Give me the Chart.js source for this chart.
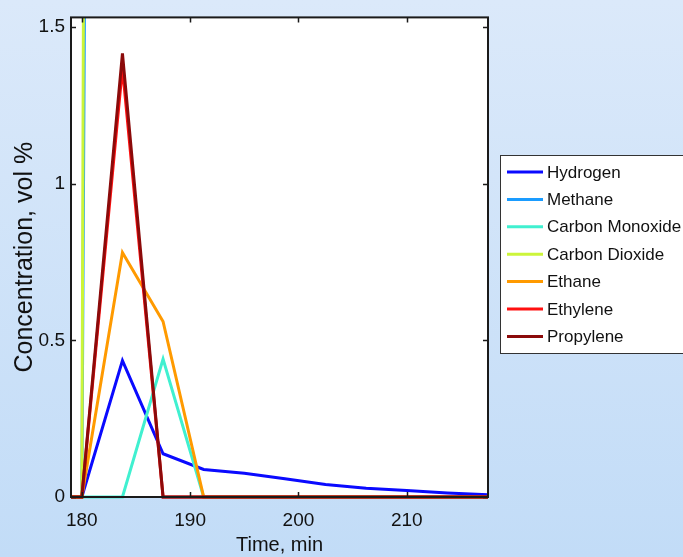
<!DOCTYPE html>
<html>
<head>
<meta charset="utf-8">
<script src="https://cdn.jsdelivr.net/npm/chart.js@4.4.1/dist/chart.umd.min.js"></script>
<style>
  html, body { margin: 0; padding: 0; }
  body {
    width: 683px; height: 557px; overflow: hidden;
    background: linear-gradient(to bottom, #dbe9fa, #c2dcf7);
  }
  canvas { display: block; }
</style>
</head>
<body>
<canvas id="gas_chart" width="683" height="557"></canvas>
<script>
// sample times (min)
const times = [179, 180, 183.75, 187.5, 191.25, 195, 198.75, 202.5, 206.25, 210, 213.75, 217.5];

// concentrations, vol %
const hydrogen       = [0, 0, 0.435, 0.138, 0.088, 0.076, 0.058, 0.040, 0.028, 0.021, 0.013, 0.007];
const methane        = [0, 0, 24, 20, 16, 13, 11, 9, 8, 7, 6, 5];
const carbonMonoxide = [0, 0, 0, 0.44, 0, 0, 0, 0, 0, 0, 0, 0];
const carbonDioxide  = [0, 0, 40, 34, 28, 24, 20, 17, 15, 13, 11, 10];
const ethane         = [0, 0, 0.78, 0.56, 0, 0, 0, 0, 0, 0, 0, 0];
const ethylene       = [0, 0, 1.37, 0, 0, 0, 0, 0, 0, 0, 0, 0];
const propylene      = [0, 0, 1.415, 0, 0, 0, 0, 0, 0, 0, 0, 0];

const seriesNames = ['Hydrogen', 'Methane', 'Carbon Monoxide', 'Carbon Dioxide', 'Ethane', 'Ethylene', 'Propylene'];
const seriesData = [hydrogen, methane, carbonMonoxide, carbonDioxide, ethane, ethylene, propylene];
const seriesColors = ['#0a0aff', '#1a9cff', '#40f0d0', '#ccf53a', '#ff9a00', '#ff1010', '#8b0a0a'];

const xTicks = [180, 190, 200, 210];
const yTicks = [0, 0.5, 1, 1.5];
const yTickLabels = ['0', '0.5', '1', '1.5'];

const fontFam = "'Liberation Sans', Arial, sans-serif";

// white plot area, box with inward ticks, boxed legend (like matlab)
const matlabLook = {
  id: 'matlabLook',
  beforeDatasetsDraw(chart) {
    const a = chart.chartArea;
    const ctx = chart.ctx;
    ctx.save();
    ctx.fillStyle = '#ffffff';
    ctx.fillRect(a.left, a.top, a.right - a.left, a.bottom - a.top);
    ctx.restore();
  },
  afterDatasetsDraw(chart) {
    const a = chart.chartArea;
    const ctx = chart.ctx;
    const x = chart.scales.x, y = chart.scales.y;
    ctx.save();
    ctx.strokeStyle = '#1a1a1a';
    ctx.lineWidth = 1.5;
    ctx.beginPath();
    x.ticks.forEach(t => {
      const px = Math.round(x.getPixelForValue(t.value)) + 0.5;
      ctx.moveTo(px, a.top); ctx.lineTo(px, a.top + 5);
      ctx.moveTo(px, a.bottom); ctx.lineTo(px, a.bottom - 5);
    });
    y.ticks.forEach(t => {
      const py = Math.round(y.getPixelForValue(t.value)) + 0.5;
      ctx.moveTo(a.left, py); ctx.lineTo(a.left + 5, py);
      ctx.moveTo(a.right, py); ctx.lineTo(a.right - 5, py);
    });
    ctx.stroke();
    ctx.lineWidth = 2;
    ctx.strokeRect(a.left, a.top, a.right - a.left, a.bottom - a.top);
    ctx.restore();
  },
  afterDraw(chart) {
    const ctx = chart.ctx;
    const boxL = 500, boxT = 155, boxB = 353, rowH = 27.4, firstRow = 172;
    ctx.save();
    ctx.fillStyle = '#ffffff';
    ctx.fillRect(boxL, boxT, chart.width - boxL + 5, boxB - boxT);
    ctx.strokeStyle = '#333333';
    ctx.lineWidth = 1;
    ctx.strokeRect(boxL + 0.5, boxT + 0.5, chart.width - boxL + 5, boxB - boxT);
    ctx.font = '17px ' + fontFam;
    ctx.textBaseline = 'middle';
    chart.data.datasets.forEach((ds, i) => {
      const ry = firstRow + i * rowH;
      ctx.strokeStyle = ds.borderColor;
      ctx.lineWidth = 3;
      ctx.beginPath();
      ctx.moveTo(507, ry); ctx.lineTo(543, ry);
      ctx.stroke();
      ctx.fillStyle = '#111111';
      ctx.fillText(ds.label, 547, ry + 1);
    });
    ctx.restore();
  }
};

new Chart(document.getElementById('gas_chart'), {
  type: 'line',
  data: {
    datasets: seriesNames.map((name, i) => ({
      label: name,
      data: times.map((t, k) => ({ x: t, y: seriesData[i][k] })),
      borderColor: seriesColors[i],
      backgroundColor: seriesColors[i],
      borderWidth: 3,
      pointRadius: 0,
      tension: 0,
      order: seriesNames.length - i,
      clip: { left: 0, top: 0, right: 0, bottom: 3 }
    }))
  },
  options: {
    responsive: false,
    devicePixelRatio: 1,
    animation: false,
    layout: { padding: { top: 10, right: 195, left: 0, bottom: 0 } },
    plugins: { legend: { display: false }, tooltip: { enabled: false } },
    scales: {
      x: {
        type: 'linear',
        min: 179,
        max: 217.5,
        afterBuildTicks: s => { s.ticks = xTicks.map(v => ({ value: v })); },
        afterFit: s => { s.height = 60; },
        grid: { display: false, drawTicks: false },
        border: { display: false },
        ticks: { color: '#111', font: { family: fontFam, size: 19 }, padding: 12, maxRotation: 0, autoSkip: false },
        title: { display: true, text: 'Time, min', color: '#111', font: { family: fontFam, size: 20, lineHeight: 1 }, padding: { top: 0, bottom: 2 } }
      },
      y: {
        min: 0,
        max: 1.53,
        afterBuildTicks: s => { s.ticks = yTicks.map(v => ({ value: v })); },
        afterFit: s => { s.width = 71; },
        grid: { display: false, drawTicks: false },
        border: { display: false },
        ticks: {
          color: '#111', font: { family: fontFam, size: 19 }, padding: 6, autoSkip: false,
          callback: v => yTickLabels[yTicks.indexOf(v)]
        },
        title: { display: true, text: 'Concentration, vol %', color: '#111', font: { family: fontFam, size: 25, lineHeight: 1.2 }, padding: { top: 10, bottom: 0 } }
      }
    }
  },
  plugins: [matlabLook]
});
</script>
</body>
</html>
